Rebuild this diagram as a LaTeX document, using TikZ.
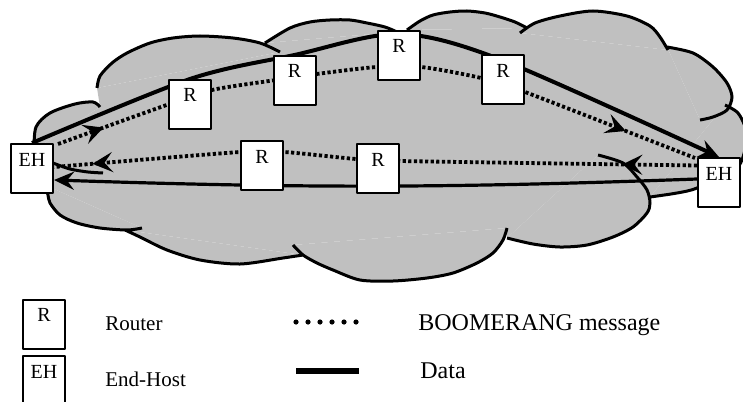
\documentclass[tikz,border=0pt]{standalone}
\usepackage{fontspec}
\setmainfont{Liberation Serif}
\usetikzlibrary{arrows.meta,decorations.markings}
\definecolor{cloudgray}{RGB}{192,192,192}
\pgfdeclarelayer{back}
\pgfdeclarelayer{mid}
\pgfsetlayers{back,mid,main}
\tikzset{
  box/.style={draw,line width=1pt,fill=white,inner sep=0pt,minimum width=21pt,text height=11pt,text depth=13.5pt,font=\fontsize{10}{12}\selectfont},
  data/.style={line width=2pt},
  boom/.style={line width=1.9pt,dash pattern=on 1.6pt off 1.2pt},
  lobe/.style={draw=black,line width=1.5pt},
  legtext/.style={anchor=base west,inner sep=0pt,font=\fontsize{10.5}{12}\selectfont},
  bigtext/.style={anchor=base west,inner sep=0pt,font=\fontsize{12}{14}\selectfont},
  boommarks/.style 2 args={postaction={solid,decorate,decoration={markings,
    mark=at position #1 with {\arrow{Stealth[length=10pt,width=10pt,inset=4pt]}},
    mark=at position #2 with {\arrow{Stealth[length=10pt,width=10pt,inset=4pt]}}}}}
}
\begin{document}
\begin{tikzpicture}[line join=round,>={Stealth[length=10pt,width=9pt,inset=3.5pt]},x=0.5pt,y=0.5pt]
\useasboundingbox (0,0) rectangle (743,-401);
% routers and end-hosts
\node[box] (EHl) at (32,-168.5) {EH};
\node[box] (R1) at (190,-104.5) {R};
\node[box] (R2) at (294.5,-80.5) {R};
\node[box] (R3) at (399,-55.5) {R};
\node[box] (R4) at (503,-80) {R};
\node[box] (EHr) at (719,-182.5) {EH};
\node[box] (R5) at (262,-165.5) {R};
\node[box] (R6) at (378,-168.5) {R};
\begin{pgfonlayer}{back}
% cloud
\fill[cloudgray] (34,-150) -- (100,-107) -- (97,-88) -- (280,-52) -- (265,-43) -- (397,-32) -- (407,-30) -- (527,-28) -- (520,-33) -- (668,-50) -- (667,-47) -- (700,-120) -- (725,-105) -- (650,-197) -- (598,-155) -- (507,-238) -- (507,-228) -- (293,-245) -- (303,-255) -- (125,-230) -- (142,-228) -- (45,-185) -- cycle;
\filldraw[fill=cloudgray,lobe]
  plot[smooth] coordinates {(34,-150) (36,-127) (50,-113) (75,-104) (93,-102) (100,-107)}
  plot[smooth] coordinates {(97,-88) (100,-76) (112,-63) (127,-53) (150,-43) (173,-38) (200,-36) (233,-38) (260,-43) (280,-52)}
  plot[smooth] coordinates {(265,-43) (290,-28) (310,-22) (330,-20) (350,-20) (367,-23) (385,-27) (397,-32)}
  plot[smooth] coordinates {(407,-30) (420,-21) (433,-15) (450,-12) (467,-11) (485,-13) (500,-17) (515,-22) (527,-28)}
  plot[smooth] coordinates {(520,-33) (535,-23) (560,-16) (593,-11) (627,-16) (650,-26) (660,-37) (668,-50)}
  plot[smooth] coordinates {(667,-47) (693,-53) (713,-67) (727,-83) (732,-97) (727,-110) (713,-117) (700,-120)}
  plot[smooth] coordinates {(725,-105) (738,-113) (746,-130) (745,-150) (735,-170) (697,-188) (677,-193) (650,-197)}
  plot[smooth] coordinates {(598,-155) (623,-163) (637,-177) (647,-190) (650,-203) (647,-213) (633,-227) (613,-237) (587,-245) (560,-247) (533,-244) (507,-238)}
  plot[smooth] coordinates {(507,-228) (503,-240) (493,-253) (477,-263) (453,-273) (427,-278) (393,-281) (360,-280) (333,-270) (317,-263) (303,-255) (293,-245)}
  plot[smooth] coordinates {(303,-255) (283,-258) (240,-264) (200,-260) (167,-250) (140,-237) (125,-230)}
  plot[smooth] coordinates {(142,-228) (127,-230) (100,-228) (77,-223) (60,-215) (50,-203) (48,-195) (45,-185)}
  plot[smooth] coordinates {(53,-163) (70,-169) (88,-172) (103,-173)};
\end{pgfonlayer}
\begin{pgfonlayer}{mid}
% data
\draw[data,->] plot[smooth] coordinates {(EHl.north) (R1.north) (R2.north) ([yshift=-2pt]R3.north) ([yshift=-3pt]R4.north) (EHr.north)};
\draw[data,line width=1.6pt,->] ([yshift=1.75pt]EHr.west) to[bend left=2] ([yshift=-5.75pt]EHl.east);
% BOOMERANG message
\draw[boom,boommarks={0.073}{0.888}] plot[smooth] coordinates {([xshift=2pt,yshift=-0.5pt]EHl.north east) (R1.west) ([yshift=7.25pt]R1.east) (R2.west) ([yshift=3.25pt]R2.east) ([yshift=-5.75pt]R3.west) ([yshift=-5.75pt]R3.east) ([yshift=1pt]R4.west) ([yshift=-6pt]R4.east) ([xshift=-1pt,yshift=-0.5pt]EHr.north west)};
\draw[boom,boommarks={0.116}{0.94}] plot[smooth] coordinates {([yshift=8.5pt]EHr.west) ([yshift=3.75pt]R6.east) ([yshift=4.75pt]R6.west) ([yshift=6.75pt]R5.east) ([yshift=6.75pt]R5.west) ([yshift=0.75pt]EHl.east)};
\end{pgfonlayer}
% legend
\node[box] (keyR) at (44,-324) {R};
\node[box] (keyEH) at (44,-380.5) {EH};
\node[legtext] (router) at (105,-330) {Router};
\node[legtext] (endhost) at (105,-386.5) {End-Host};
\coordinate (dotA) at (296,-322);
\coordinate (dotB) at (356.2,-322);
\draw[line width=2.6pt,line cap=round,dash pattern=on 0pt off 6pt] (dotA) -- (dotB);
\coordinate (datA) at (296,-371);
\coordinate (datB) at (359,-371);
\draw[line width=3pt] (datA) -- (datB);
\node[bigtext] (boomtext) at (418,-330) {BOOMERANG message};
\node[bigtext] (datatext) at (420,-378) {Data};
\end{tikzpicture}
\end{document}
